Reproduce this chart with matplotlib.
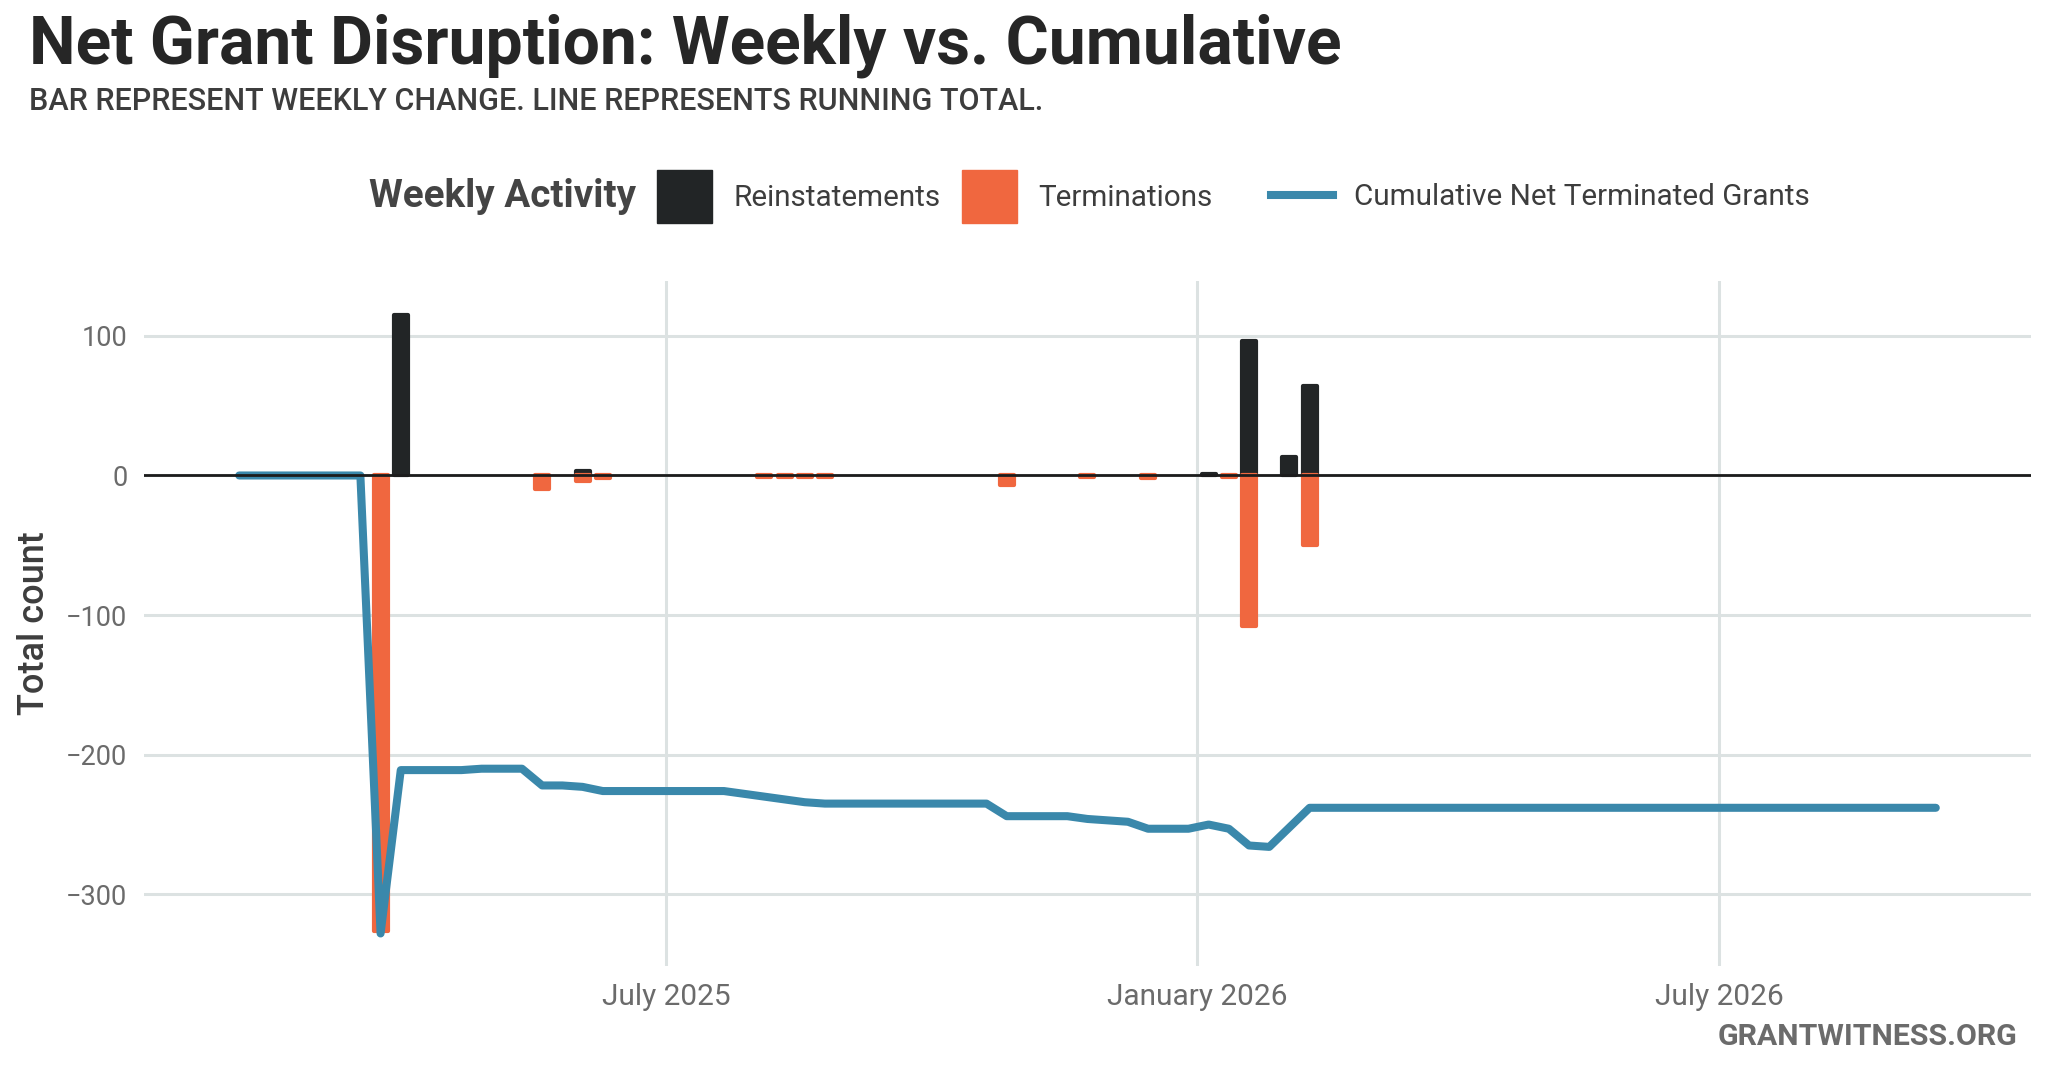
import matplotlib
matplotlib.use("Agg")
import matplotlib.pyplot as plt
import matplotlib.dates as mdates
from matplotlib.lines import Line2D
from matplotlib.patches import Patch
import numpy as np
import pandas as pd

# weekly values
week_start = "2025-02-03"
n_weeks = 85

reinst_weeks = [8, 17, 48, 50, 52, 53]
reinst_values = [115, 3, 1, 96, 13, 64]

term_weeks = [7, 15, 17, 18, 26, 27, 28, 29, 38, 42, 45, 49, 50, 53]
term_values = [-326, -10, -4, -2, -1, -1, -1, -1, -7, -1, -2, -1, -108, -50]

cumulative = [
    0, 0, 0, 0, 0, 0, 0, -328, -211, -211,
    -211, -211, -210, -210, -210, -222, -222, -223, -226, -226,
    -226, -226, -226, -226, -226, -228, -230, -232, -234, -235,
    -235, -235, -235, -235, -235, -235, -235, -235, -244, -244,
    -244, -244, -246, -247, -248, -253, -253, -253, -250, -253,
    -265, -266, -252, -238, -238, -238, -238, -238, -238, -238,
    -238, -238, -238, -238, -238, -238, -238, -238, -238, -238,
    -238, -238, -238, -238, -238, -238, -238, -238, -238, -238,
    -238, -238, -238, -238, -238,
]

x_ticks = ["2025-07-01", "2026-01-01", "2026-07-01"]
y_ticks = [-300, -200, -100, 0, 100]

BLACK = "#222526"
ORANGE = "#F0673F"
BLUE = "#3A88AB"
GRID = "#DCE2E2"

plt.rcParams["font.family"] = ["Roboto", "DejaVu Sans"]

fig = plt.figure(figsize=(20.48, 10.70), dpi=100)
ax = fig.add_axes([0.0703, 0.0972, 0.9214, 0.6402])

dates = pd.date_range(week_start, periods=n_weeks, freq="7D")
bar_w = 6.3  # days, incl. the rounded edge

# thick edge with round joins gives the rounded bar corners
bar_kw = dict(width=bar_w - 1.45, linewidth=3, joinstyle="round", zorder=2)
ax.bar(dates[reinst_weeks], reinst_values, color=BLACK, edgecolor=BLACK, **bar_kw)
ax.bar(dates[term_weeks], term_values, color=ORANGE, edgecolor=ORANGE, **bar_kw)
ax.plot(dates, cumulative, color=BLUE, lw=5.8, solid_joinstyle="round",
        solid_capstyle="round", zorder=3)
ax.axhline(0, color="#1c1c1c", lw=2.0, zorder=4)

x_pad = pd.Timedelta(days=33)
ax.set_xlim(dates[0] - x_pad, dates[-1] + x_pad)
lo, hi = -329, 117
ax.set_ylim(lo - 0.05 * (hi - lo), hi + 0.05 * (hi - lo))

ax.set_xticks(pd.to_datetime(x_ticks))
ax.xaxis.set_major_formatter(mdates.DateFormatter("%B %Y"))
ax.set_yticks(y_ticks)
ax.grid(True, color=GRID, lw=2.2)
ax.set_axisbelow(True)
for s in ax.spines.values():
    s.set_visible(False)
ax.tick_params(length=0, labelcolor="#6b6b6b", pad=12)
ax.tick_params(axis="x", labelsize=21.5)
ax.tick_params(axis="y", labelsize=19.5)

fig.text(0.017, 0.0972 + 0.6402 / 2, "Total count", rotation=90, ha="center",
         va="center", fontsize=26, fontweight="medium", color="#3d3d3d")

fig.text(0.014, 0.941, "Net Grant Disruption: Weekly vs. Cumulative",
         va="baseline", fontsize=47.5, fontweight="bold", color="#262626")
fig.text(0.014, 0.897, "BAR REPRESENT WEEKLY CHANGE. LINE REPRESENTS RUNNING TOTAL.",
         va="baseline", fontsize=22, fontweight="medium", color="#3d3d3d")

# legend row
leg_y = 0.816
fig.text(636 / 2048, leg_y, "Weekly Activity", ha="right", va="center",
         fontsize=27.8, fontweight="bold", color="#444444")
leg1 = fig.legend([Patch(color=BLACK), Patch(color=ORANGE)],
                  ["Reinstatements", "Terminations"], ncol=2,
                  loc="center left", bbox_to_anchor=(657 / 2048, leg_y),
                  frameon=False, fontsize=21.3, labelcolor="#3d3d3d",
                  handlelength=1.86, handleheight=2.38, handletextpad=0.71,
                  columnspacing=0.74, borderpad=0, borderaxespad=0)
leg2 = fig.legend([Line2D([], [], color=BLUE, lw=5.8)],
                  ["Cumulative Net Terminated Grants"],
                  loc="center left", bbox_to_anchor=(1271 / 2048, leg_y),
                  frameon=False, fontsize=21.3, labelcolor="#3d3d3d",
                  handlelength=2.1, handletextpad=0.71, borderpad=0,
                  borderaxespad=0)

fig.text(0.985, 0.023, "GRANTWITNESS.ORG", ha="right", va="baseline",
         fontsize=21.8, fontweight="bold", color="#6b6b6b")

fig.savefig("out.png", dpi=100)
